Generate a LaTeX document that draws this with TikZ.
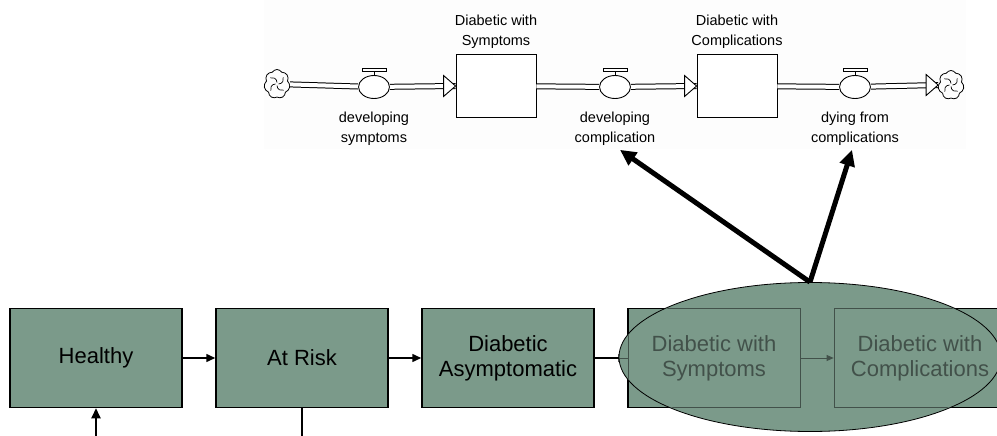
\documentclass[tikz,border=0pt]{standalone}
\usepackage{fontspec}
\setmainfont{Liberation Sans}
\usetikzlibrary{arrows.meta,positioning,shapes.geometric,shapes.symbols}
\definecolor{stategreen}{HTML}{7B9A8A}
\definecolor{fadegrey}{HTML}{42514A}
\definecolor{panelgrey}{HTML}{FDFDFD}
\tikzset{
    state/.style={draw=black, line width=1.5pt, fill=stategreen, minimum width=172pt, minimum height=99pt, align=center, inner sep=0pt, font=\fontsize{22}{25}\selectfont},
    faded/.style={state, draw=fadegrey, line width=0.8pt, fill=none, text=fadegrey},
    stock/.style={draw, line width=0.9pt, fill=white, minimum width=80pt, minimum height=63pt, inner sep=0pt},
    valve/.style={draw, ellipse, line width=0.9pt, fill=white, minimum width=31pt, minimum height=23pt, inner sep=0pt},
    sink/.style={draw, cloud, cloud puffs=7, cloud puff arc=120, aspect=1, line width=0.8pt, minimum width=26pt, minimum height=29pt, inner sep=0pt},
    small/.style={align=center, inner sep=0pt, font=\fontsize{14.5}{20}\selectfont},
    pipe/.style={double, double distance=4pt, line width=1pt},
    flow/.style={line width=1.5pt, -{Triangle[length=9pt,width=8pt]}},
    bigarrow/.style={line width=5pt, -{Triangle[length=16pt,width=15pt]}}
}
\begin{document}
\begin{tikzpicture}[x=1pt,y=-1pt]
                        \path[use as bounding box] (0,0) rectangle (997,436);
                        \clip (0,0) rectangle (997,436);
                        \fill[white] (0,0) rectangle (997,436);
                        \fill[panelgrey] (264,0) rectangle (966,149);
                        % stock and flow panel
                        \node [sink] (srcL) at (277,84) {};
                        \node [valve] (v1) at (374,87) {};
                        \node [stock] (s1) at (496,86) {};
                        \node [valve] (v2) at (615,87) {};
                        \node [stock] (s2) at (737,86) {};
                        \node [valve] (v3) at (855,87) {};
                        \node [sink] (snkR) at (951,85) {};
                        \foreach \c in {srcL,snkR}
                        {
                            \foreach \a in {0,90,180,270}
                                \draw[line width=0.7pt] (\c.center) ++(\a:1.5pt) arc[start angle=\a-90, end angle=\a+20, radius=5pt];
                        }
                        \draw[pipe] (srcL) -- (v1);
                        \foreach \a/\b in {v1/s1,v2/s2,v3/snkR}
                        {
                            \draw[pipe] (\a) -- (\b.west);
                            \draw[line width=0.9pt, fill=white] (\b.west) -- ++(-12,-10.5) -- ++(0,21) -- cycle;
                        }
                        \draw[pipe] (s1) -- (v2);
                        \draw[pipe] (s2) -- (v3);
                        \foreach \v in {v1,v2,v3}
                        {
                            \draw[line width=0.9pt] (\v.north) -- ++(0,-4);
                            \draw[line width=0.9pt, fill=white] ([shift={(-12,-7)}]\v.north) rectangle ([shift={(12,-4)}]\v.north);
                        }
                        \node [small, above=5pt of s1] (s1lab) {Diabetic with\\Symptoms};
                        \node [small, above=5pt of s2] (s2lab) {Diabetic with\\Complications};
                        \node [small, below=13pt of v1] (v1lab) {developing\\symptoms};
                        \node [small, below=13pt of v2] (v2lab) {developing\\complication};
                        \node [small, below=13pt of v3] (v3lab) {dying from\\complications};
                        % states
                        \node [state] (healthy) at (96,358) {Healthy};
                        \node [state] (atrisk) at (302,358) {At Risk};
                        \node [state] (asympt) at (508,358) {Diabetic\\Asymptomatic};
                        \node [state] (symptoms) at (714,358) {};
                        \node [state] (complic) at (920,358) {};
                        \foreach \a/\b in {healthy/atrisk,atrisk/asympt,asympt/symptoms}
                            \draw[flow] (\a) -- (\b);
                        \coordinate (inflow) at (96,440);
                        \coordinate (outflow) at (302,440);
                        \draw[line width=2pt, -{Triangle[length=10pt,width=9pt]}] (inflow) -- (healthy.south);
                        \draw[line width=2pt] (atrisk.south) -- (outflow);
                        % group
                        \node [draw, ellipse, line width=0.8pt, fill=stategreen, minimum width=382pt, minimum height=149pt] (group) at (810,357) {};
                        \begin{scope}
                            \clip (group.center) ellipse [x radius=190, y radius=73.5];
                            \node [faded] (symptomsF) at (symptoms) {Diabetic with\\Symptoms};
                            \node [faded] (complicF) at (complic) {Diabetic with\\Complications};
                            \draw[fadegrey, line width=0.8pt, -{Triangle[length=7pt,width=6pt]}] (symptomsF) -- (complicF);
                            \draw[fadegrey, line width=0.8pt] (asympt) -- (symptomsF);
                        \end{scope}
                        \draw[bigarrow] (group.north) -- ([shift={(5,4)}]v2lab.south);
                        \draw[bigarrow] (group.north) -- ([shift={(-3,4)}]v3lab.south);
                    \end{tikzpicture}
\end{document}
